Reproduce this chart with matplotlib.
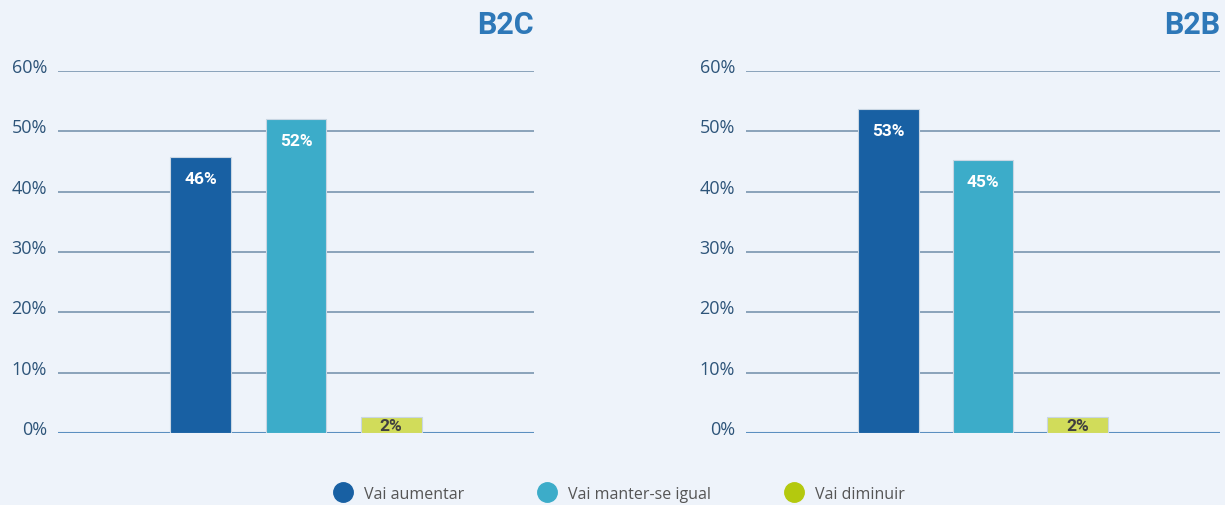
import matplotlib.pyplot as plt
from matplotlib.lines import Line2D
from matplotlib.transforms import ScaledTranslation

# Data
categories = ["Vai aumentar", "Vai manter-se igual", "Vai diminuir"]
panels = ["B2C", "B2B"]
b2c_values = [45.7, 52.0, 2.6]
b2b_values = [53.7, 45.2, 2.6]
b2c_labels = ["46%", "52%", "2%"]
b2b_labels = ["53%", "45%", "2%"]
yticks = [0, 10, 20, 30, 40, 50, 60]

colors = ["#1860a3", "#3cacc9", "#d1dc5a"]
label_colors = ["white", "white", "#404040"]
bg = "#eef3fa"

plt.rcParams['font.family'] = ['Open Sans', 'DejaVu Sans']
bold_font = ['Roboto', 'DejaVu Sans']

fig = plt.figure(figsize=(12.25, 5.06), dpi=100, facecolor=bg)
ax1 = fig.add_axes([58 / 1225, 1 - 434 / 506, 476 / 1225, 362 / 506])
ax2 = fig.add_axes([746 / 1225, 1 - 434 / 506, 474 / 1225, 362 / 506])

for ax, title, values, labels in [(ax1, panels[0], b2c_values, b2c_labels),
                                  (ax2, panels[1], b2b_values, b2b_labels)]:
    ax.set_facecolor(bg)
    x = list(range(len(values)))
    bars = ax.bar(x, values, width=0.64, color=colors, edgecolor="#c9d6e3",
                  linewidth=0.8, zorder=3)
    for i, (b, v, lab) in enumerate(zip(bars, values, labels)):
        if v > 10:
            ax.annotate(lab, (b.get_x() + b.get_width() / 2, v), xytext=(0, -10),
                        textcoords="offset points", ha="center", va="top",
                        color=label_colors[i], fontsize=12.5, fontweight="bold",
                        family=bold_font, zorder=4)
        else:
            ax.text(b.get_x() + b.get_width() / 2, v / 2, lab, ha="center",
                    va="center", color=label_colors[i], fontsize=12.5,
                    fontweight="bold", family=bold_font, zorder=4)
    ax.set_xlim(-1.5, 3.5)
    ax.set_ylim(0, 60)
    ax.set_yticks(yticks)
    ax.set_yticklabels([f"{t}%" for t in yticks])
    ax.set_xticks([])
    ax.grid(axis="y", color="#6f8ca8", linewidth=1.1, zorder=0)
    ax.axhline(0, color="#5b8fc0", linewidth=1.5, zorder=2)
    for s in ax.spines.values():
        s.set_visible(False)
    ax.tick_params(axis="y", length=0, pad=8, labelsize=13, labelcolor="#2d5479")
    # labels sit slightly above their gridlines
    for t in ax.get_yticklabels():
        t.set_transform(t.get_transform() + ScaledTranslation(0, 0.06, fig.dpi_scale_trans))
    ax.set_title(title, loc="right", fontsize=22, fontweight="bold",
                 family=bold_font, color="#2e78b8", pad=27)

handles = [Line2D([], [], marker="o", linestyle="", markersize=14,
                  markerfacecolor=c, markeredgecolor=c) for c in ["#1860a3", "#3cacc9", "#b4c90e"]]
fig.legend(handles, categories, loc="center", bbox_to_anchor=(620 / 1225, 1 - 495 / 506),
           ncol=3, frameon=False, fontsize=11.5, labelcolor="#555555",
           handletextpad=0.8, columnspacing=4.7, handlelength=1.0)

fig.savefig("out.png", dpi=100, facecolor=bg)
